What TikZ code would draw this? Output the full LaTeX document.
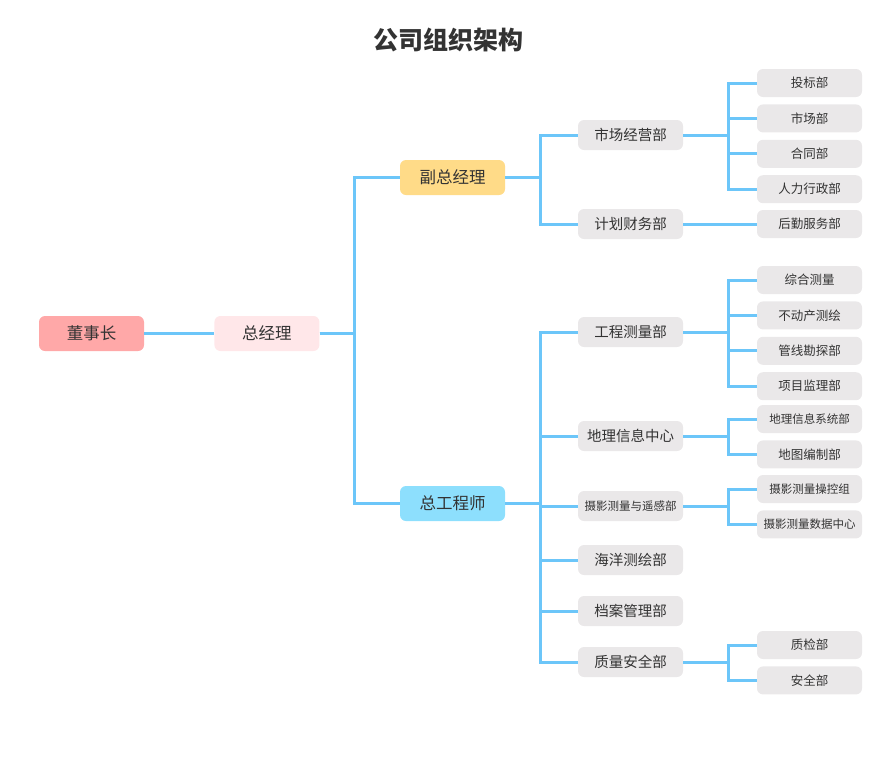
\documentclass[tikz,border=0pt]{standalone}
\usepackage{fontspec}
\setmainfont{Noto Sans CJK SC}
\usetikzlibrary{positioning}
\definecolor{linkblue}{HTML}{6CC6F9}
\definecolor{chairred}{HTML}{FFA8A8}
\definecolor{gmpink}{HTML}{FFE7E9}
\definecolor{viceyellow}{HTML}{FFDB88}
\definecolor{chiefblue}{HTML}{8DDFFD}
\definecolor{deptgray}{HTML}{EAE8E9}
\definecolor{textgray}{HTML}{333333}

\begin{document}
\begin{tikzpicture}[
  x = 1pt, y = -1pt,
  node distance = 7pt and 70pt,
  box/.style = {rounded corners=6pt, minimum width=105pt, inner sep=0pt, text=textgray},
  top/.style = {box, minimum height=35pt, font=\fontsize{16.5}{16.5}\selectfont},
  dept/.style = {box, fill=deptgray, minimum height=30pt, font=\fontsize{14.5}{14.5}\selectfont},
  leaf/.style = {box, fill=deptgray, minimum height=28pt, font=\fontsize{12.5}{12.5}\selectfont},
  small/.style = {font=\fontsize{11.5}{11.5}\selectfont},
  link/.style = {draw=linkblue, line width=3pt}
]
\useasboundingbox (0,0) rectangle (896,756);

\node[font=\fontsize{25}{25}\selectfont\bfseries, text=textgray] (title) at (448,40) {公司组织架构};

% top levels
\node[top, fill=chairred] (chair) at (91.5,333.5) {董事长};
\node[top, fill=gmpink, right=of chair] (gm) {总经理};
\node[top, fill=viceyellow] (vice) at (452.5,177.5) {副总经理};
\node[top, fill=chiefblue] (chief) at (452.5,503.5) {总工程师};

% departments
\node[dept] (market)  at (630.5,135) {市场经营部};
\node[dept] (finance) at (630.5,224) {计划财务部};
\node[dept] (survey)  at (630.5,332) {工程测量部};
\node[dept] (geoinfo) at (630.5,436) {地理信息中心};
\node[dept, small] (photo) at (630.5,506) {摄影测量与遥感部};
\node[dept] (ocean)   at (630.5,560) {海洋测绘部};
\node[dept] (archive) at (630.5,611) {档案管理部};
\node[dept] (quality) at (630.5,662) {质量安全部};

% sections
\node[leaf] (bid) at (809.5,83) {投标部};
\node[leaf, below=of bid] (sales)    {市场部};
\node[leaf, below=of sales] (contract) {合同部};
\node[leaf, below=of contract] (hr)  {人力行政部};
\node[leaf] (logis) at (809.5,224) {后勤服务部};

\node[leaf] (general) at (809.5,280) {综合测量};
\node[leaf, below=of general] (estate) {不动产测绘};
\node[leaf, below=of estate] (pipe)    {管线勘探部};
\node[leaf, below=of pipe] (supervise) {项目监理部};

\node[leaf, small] (gis) at (809.5,419) {地理信息系统部};
\node[leaf, below=of gis] (mapping) {地图编制部};

\node[leaf, small] (control) at (809.5,489) {摄影测量操控组};
\node[leaf, small, below=of control] (datactr) {摄影测量数据中心};

\node[leaf] (inspect) at (809.5,645) {质检部};
\node[leaf, below=of inspect] (safety) {安全部};

\draw[link] (chair) -- (gm);
\foreach \c in {vice,chief}
  \draw[link] (gm.east) -- ++(35,0) |- (\c.west);
\foreach \c in {market,finance}
  \draw[link] (vice.east) -- ++(35,0) |- (\c.west);
\foreach \c in {survey,geoinfo,photo,ocean,archive,quality}
  \draw[link] (chief.east) -- ++(35,0) |- (\c.west);
\foreach \c in {bid,sales,contract,hr}
  \draw[link] (market.east) -- ++(45,0) |- (\c.west);
\draw[link] (finance) -- (logis);
\foreach \c in {general,estate,pipe,supervise}
  \draw[link] (survey.east) -- ++(45,0) |- (\c.west);
\foreach \c in {gis,mapping}
  \draw[link] (geoinfo.east) -- ++(45,0) |- (\c.west);
\foreach \c in {control,datactr}
  \draw[link] (photo.east) -- ++(45,0) |- (\c.west);
\foreach \c in {inspect,safety}
  \draw[link] (quality.east) -- ++(45,0) |- (\c.west);

\end{tikzpicture}
\end{document}
